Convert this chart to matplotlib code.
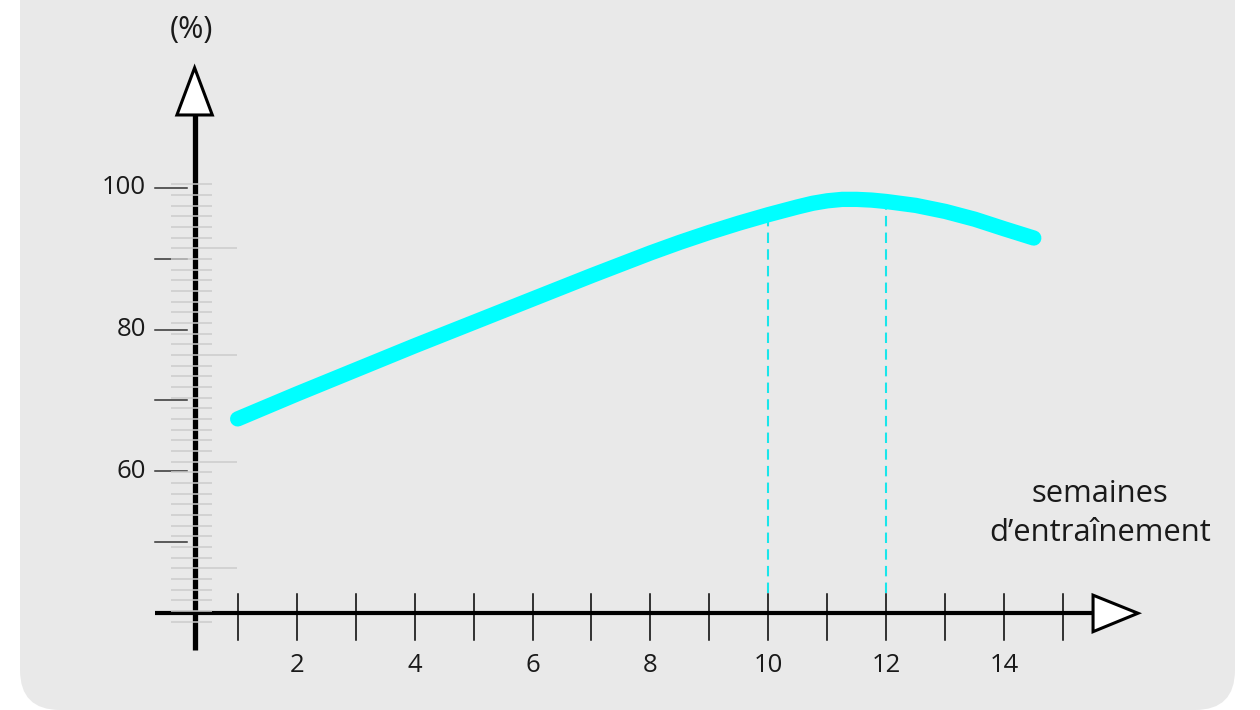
import numpy as np
import matplotlib
matplotlib.use("Agg")
import matplotlib.pyplot as plt
from matplotlib.patches import FancyBboxPatch, Polygon
from matplotlib.transforms import IdentityTransform

plt.rcParams['font.family'] = ['Open Sans', 'DejaVu Sans']

# curve (weeks, %)
weeks = [1, 2, 3, 4, 5, 6, 7, 8, 8.5, 9, 9.5, 10, 10.5, 10.75, 11, 11.25, 11.5,
         11.75, 12, 12.5, 13, 13.5, 14, 14.5]
perf = [67.4, 70.9, 74.3, 77.7, 81.0, 84.3, 87.6, 90.8, 92.3, 93.7, 95.0, 96.2,
        97.3, 97.8, 98.15, 98.35, 98.35, 98.25, 98.05, 97.5, 96.65, 95.55,
        94.2, 92.9]
marked_weeks = [10, 12]
marked_perf = [96.2, 98.05]

xticks = list(range(1, 16))
xlabels = [2, 4, 6, 8, 10, 12, 14]
ymajor = [50, 60, 70, 80, 90, 100]
ylabels = [60, 80, 100]

fig = plt.figure(figsize=(12.6, 7.1), dpi=100)
fig.patch.set_facecolor('white')

ax = fig.add_axes([0, 0, 1, 1])
ax.set_xlim(-3.030, 18.336)
ax.set_ylim(26.36, 126.46)
ax.axis('off')

# rounded grey card behind everything
card = FancyBboxPatch((20, 0), 1215, 780, boxstyle="round,pad=0,rounding_size=40",
                      transform=IdentityTransform(), facecolor='#e9e9e9',
                      edgecolor='none', zorder=0, clip_on=False)
ax.add_patch(card)

yax = 0.27

# grey ruler lines on y axis
for k in range(42):
    yy = 100.48 - 1.504 * k
    right = 0.99 if k % 10 == 6 else 0.565
    ax.plot([-0.13, right], [yy, yy], color='#cbcbcb', lw=1.1, zorder=4,
            solid_capstyle='butt')

# axes lines
ax.plot([yax, yax], [34.8, 110.5], color='black', lw=3.8, zorder=3,
        solid_capstyle='butt')
ax.plot([-0.40, 15.55], [40, 40], color='black', lw=3.0, zorder=3,
        solid_capstyle='butt')

# arrows
ax.add_patch(Polygon([[yax - 0.30, 110.25], [yax + 0.30, 110.25], [yax, 116.9]],
                     closed=True, facecolor='white', edgecolor='black', lw=2.2,
                     zorder=5, joinstyle='miter'))
ax.add_patch(Polygon([[15.505, 42.55], [15.505, 37.4], [16.267, 40]],
                     closed=True, facecolor='white', edgecolor='black', lw=2.2,
                     zorder=5, joinstyle='miter'))

# x ticks
for t in xticks:
    ax.plot([t, t], [36.2, 42.7], color='black', lw=1.1, zorder=3)
for t in xlabels:
    ax.text(t, 32.6, str(t), ha='center', va='center', fontsize=18.5,
            color='#1a1a1a')

# y ticks
for v in ymajor:
    ax.plot([-0.40, 0.14], [v, v], color='#333333', lw=1.1, zorder=3)
for v in ylabels:
    ax.text(-0.55, v, str(v), ha='right', va='center', fontsize=18.5,
            color='#1a1a1a')

ax.text(0.22, 122.3, '(%)', ha='center', va='center', fontsize=22, color='#1a1a1a')
ax.text(15.62, 54.1, 'semaines\nd\u2019entra\u00eenement', ha='center', va='center',
        fontsize=22.3, color='#1a1a1a', linespacing=1.4)

# dashed guides
for w, p in zip(marked_weeks, marked_perf):
    ax.plot([w, w], [42.8, p], color='#19e6ea', lw=1.5, ls=(0, (5, 3)), zorder=2)

ax.plot(weeks, perf, color='#00ffff', lw=11, solid_capstyle='round',
        solid_joinstyle='round', zorder=6)

fig.savefig('out.png', dpi=100, facecolor='white')
